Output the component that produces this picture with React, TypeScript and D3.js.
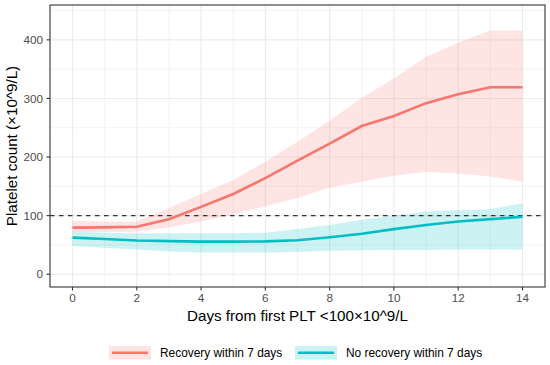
import React from 'react';
import * as d3 from 'd3';

// days since first PLT < 100
const days = [0, 1, 2, 3, 4, 5, 6, 7, 8, 9, 10, 11, 12, 13, 14];

// recovery within 7 days: mean + band
const recMean = [79.5, 80, 81, 94, 115, 137, 164, 194, 223, 253, 270, 292, 307, 319, 319];
const recLow = [72, 72, 73, 80, 90, 102, 116, 130, 148, 158, 168, 175, 172, 167, 158];
const recHigh = [91, 90, 90, 113, 137, 161, 192, 226, 262, 301, 334, 371, 395, 416, 416];

// no recovery within 7 days
const noMean = [62.5, 60, 57.5, 56.5, 55.7, 55.7, 56, 58, 63, 69, 77, 84, 90, 94, 98];
const noLow = [48, 45, 42, 39, 37, 37, 37, 38, 40, 41, 41.5, 41.5, 42, 42, 42];
const noHigh = [73, 71, 70, 70, 70, 70, 71, 77, 84, 93, 100, 107, 109, 111, 121];

const xTicks = [0, 2, 4, 6, 8, 10, 12, 14];
const yTicks = [0, 100, 200, 300, 400];
const xMinor = [1, 3, 5, 7, 9, 11, 13];
const yMinor = [50, 150, 250, 350, 450];

const seriesNames = ['Recovery within 7 days', 'No recovery within 7 days'];
const colors = ['#F8766D', '#00BFC4'];

export default function App() {
  const W = 550, H = 365;
  const left = 50, right = 545, top = 5, bottom = 287;

  const x = d3.scaleLinear().domain([-0.7, 14.7]).range([left, right]);
  const y = d3.scaleLinear().domain([-21.8, 459.5]).range([bottom, top]);

  const mkLine = (vals: number[]) =>
    d3.line<number>().x((_, i) => x(days[i])).y(d => y(d))(vals) || '';
  const mkArea = (lo: number[], hi: number[]) =>
    d3.area<number>()
      .x((_, i) => x(days[i]))
      .y0((_, i) => y(lo[i]))
      .y1(d => y(d))(hi) || '';

  const font = '"Liberation Sans", Arial, sans-serif';

  const groups = [
    { lo: recLow, hi: recHigh, mean: recMean },
    { lo: noLow, hi: noHigh, mean: noMean },
  ];

  return (
    <svg width={W} height={H} style={{ position: 'absolute', left: 0, top: 0, background: '#fff' }} fontFamily={font}>
      {/* grid */}
      {xMinor.map(d => (
        <line key={'xm' + d} x1={x(d)} x2={x(d)} y1={top} y2={bottom} stroke="#EBEBEB" strokeWidth={0.6} />
      ))}
      {yMinor.map(d => (
        <line key={'ym' + d} x1={left} x2={right} y1={y(d)} y2={y(d)} stroke="#EBEBEB" strokeWidth={0.6} />
      ))}
      {xTicks.map(d => (
        <line key={'xg' + d} x1={x(d)} x2={x(d)} y1={top} y2={bottom} stroke="#EBEBEB" strokeWidth={1.1} />
      ))}
      {yTicks.map(d => (
        <line key={'yg' + d} x1={left} x2={right} y1={y(d)} y2={y(d)} stroke="#EBEBEB" strokeWidth={1.1} />
      ))}

      {/* ribbons */}
      {groups.map((g, i) => (
        <path key={'a' + i} d={mkArea(g.lo, g.hi)} fill={colors[i]} fillOpacity={0.2} />
      ))}

      {/* reference line */}
      <line x1={left} x2={right} y1={y(100)} y2={y(100)} stroke="#333" strokeWidth={1.2} strokeDasharray="4.5,4.5" />

      {/* mean lines */}
      {groups.map((g, i) => (
        <path key={'l' + i} d={mkLine(g.mean)} fill="none" stroke={colors[i]} strokeWidth={2.6} />
      ))}

      {/* panel border */}
      <rect x={left} y={top} width={right - left} height={bottom - top} fill="none" stroke="#333" strokeWidth={1.1} />

      {/* axes */}
      {yTicks.map(d => (
        <g key={'yt' + d}>
          <line x1={left - 3.5} x2={left} y1={y(d)} y2={y(d)} stroke="#333" strokeWidth={1.1} />
          <text x={left - 7} y={y(d)} dy="0.35em" textAnchor="end" fontSize={11.7} fill="#4D4D4D">{d}</text>
        </g>
      ))}
      {xTicks.map(d => (
        <g key={'xt' + d}>
          <line x1={x(d)} x2={x(d)} y1={bottom} y2={bottom + 3.5} stroke="#333" strokeWidth={1.1} />
          <text x={x(d)} y={bottom + 15} textAnchor="middle" fontSize={11.7} fill="#4D4D4D">{d}</text>
        </g>
      ))}

      <text x={(left + right) / 2} y={320.5} textAnchor="middle" fontSize={15.2} fill="#000">
        Days from first PLT &lt;100×10^9/L
      </text>
      <text transform={`translate(17,${(top + bottom) / 2}) rotate(-90)`} textAnchor="middle" fontSize={15.2} fill="#000">
        Platelet count (×10^9/L)
      </text>

      {/* legend */}
      {[{ kx: 109, tx: 160 }, { kx: 295, tx: 346 }].map((p, i) => (
        <g key={'lg' + i}>
          <rect x={p.kx} y={346} width={42} height={13.5} fill={colors[i]} fillOpacity={0.2} />
          <line x1={p.kx + 3} x2={p.kx + 39} y1={352.8} y2={352.8} stroke={colors[i]} strokeWidth={2.6} />
          <text x={p.tx} y={352.8} dy="0.35em" fontSize={11.9} fill="#000">{seriesNames[i]}</text>
        </g>
      ))}
    </svg>
  );
}
